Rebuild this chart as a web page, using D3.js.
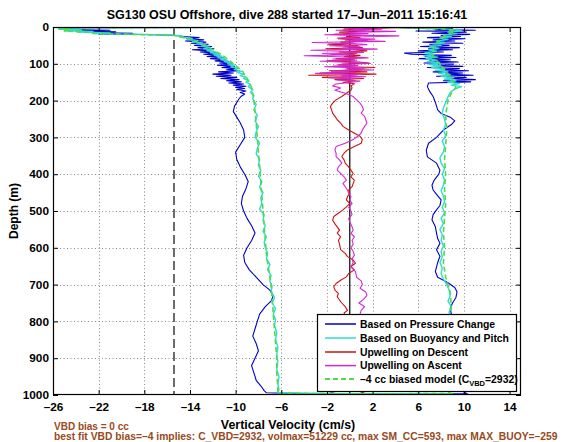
<!DOCTYPE html>
<html><head><meta charset="utf-8">
<script src="https://cdn.jsdelivr.net/npm/d3@7"></script>
<style>
body{margin:0;background:#fff}
svg{display:block}
text{font-family:"Liberation Sans",Arial,Helvetica,sans-serif;font-weight:bold}
</style>
</head><body>
<svg id="chart" width="568" height="442"></svg>
<script>
// ---------------- data ----------------
const titleText = "SG130 OSU Offshore, dive 288 started 17\u2013Jun\u20132011 15:16:41";
const xLabel = "Vertical Velocity (cm/s)";
const yLabel = "Depth (m)";
const note1 = "VBD bias = 0 cc";
const note2 = "best fit VBD bias=\u20134 implies: C_VBD=2932, volmax=51229 cc, max SM_CC=593, max MAX_BUOY=\u2013259";
const xTicks = [-26,-22,-18,-14,-10,-6,-2,2,6,10,14];
const yTicks = [0,100,200,300,400,500,600,700,800,900,1000];
const xDomain = [-26, 15];
const yDomain = [0, 1000];
const vbdLimit = -15.4;   // dashed vertical reference
const legendLabels = ["Based on Pressure Change","Based on Buoyancy and Pitch","Upwelling on Descent","Upwelling on Ascent"];
const modelLabel = ["\u20134 cc biased model (C", "VBD", "=2932)"];

// each point: [depth (m), vertical velocity (cm/s)]
const pressureW = [
[0,3],[1,-10],[2,-23],[4,-25.5],[7,-24.8],[9,-21],[11,-24],[13,-20.5],[15,-23],[17,-19],[19,-22],[21,-17],[23,-15.2],[26,-14.6],[29,-13.2],[32,-14.3],[35,-12.8],[38,-14.4],[41,-12.6],[44,-13.9],[47,-12.4],[50,-13.6],[53,-12.1],[56,-13.3],[59,-11.9],[62,-13.8],[65,-12.2],[68,-13.1],[71,-11.7],[74,-12.8],[77,-11.4],[80,-12.5],[83,-11.1],[86,-12.2],[89,-10.9],[92,-11.8],[95,-10.6],[98,-11.4],[101,-10.3],[104,-11.6],[107,-10.1],[110,-11.2],[113,-9.9],[116,-10.8],[119,-9.7],[122,-11.5],[125,-10.2],[128,-12],[131,-10.4],[134,-11.7],[137,-9.9],[140,-11.3],[143,-9.7],[146,-10.8],[149,-9.5],[152,-10.6],[155,-9.3],[158,-10.2],[161,-9.1],[164,-10],[167,-9.2],[170,-9.9],[174,-9.1],[178,-9.6],[182,-9.2],[188,-9.5],
[195,-9.7],[205,-9.9],[215,-10.1],[230,-10.2],[245,-9.9],[260,-9.6],[280,-9.3],[300,-9.2],[320,-9.6],[340,-10.0],[360,-9.9],[380,-9.6],[400,-9.2],[420,-8.9],[440,-9.1],[460,-9.4],[480,-9.5],[500,-9.3],[520,-9.0],[540,-8.6],[560,-8.3],[580,-8.6],[600,-9.0],[620,-9.3],[640,-9.2],[660,-8.8],[680,-8.2],[700,-7.6],[715,-7.0],[730,-6.7],[745,-6.9],[760,-7.4],[780,-7.9],[800,-8.1],[820,-8.3],[840,-8.5],[860,-8.2],[880,-8.0],[900,-8.3],[920,-8.6],[940,-8.4],[960,-8.2],[975,-7.8],[988,-7.5],[994,-7.3],[997,-3],[998,4],[997,10.3],
[992,10],[980,9.6],[960,9.3],[940,9.0],[920,8.8],[900,8.9],[880,9.1],[860,8.8],[840,8.6],[820,8.8],[800,9.0],[780,8.9],[765,8.8],[750,9.0],[735,9.3],[720,9.4],[708,9.2],[695,8.6],[688,8.2],[680,7.7],[665,7.5],[652,7.6],[640,7.7],[623,7.9],[605,7.6],[588,7.9],[575,7.7],[560,7.6],[543,7.5],[524,7.2],[510,7.3],[497,7.6],[485,7.9],[470,8.0],[455,7.6],[443,7.3],[430,7.2],[416,7.4],[400,7.8],[389,7.9],[370,7.6],[353,6.8],[335,6.7],[316,6.9],[300,7.6],[280,8.2],[265,8.9],[255,9.2],[245,8.8],[235,8.0],[225,7.7],[205,7.5],[189,7.3],[175,7.0],[162,6.8],[152,6.9],
[149,10.6],[146,8.2],[143,11.0],[140,8.8],[137,10.2],[134,7.6],[131,10.8],[128,8.4],[125,9.9],[122,7.3],[119,10.4],[116,8.0],[113,9.6],[110,6.8],[107,9.9],[104,7.4],[101,9.1],[98,6.5],[95,9.5],[92,7.0],[89,8.8],[86,6.1],[83,9.3],[80,6.6],[77,8.9],[74,5.4],[71,4.8],[68,8.2],[65,6.0],[62,9.0],[59,6.9],[56,9.6],[53,6.2],[50,8.7],[47,7.0],[44,9.9],[41,6.4],[38,9.2],[35,7.3],[32,10.1],[29,6.8],[26,9.7],[23,8.0],[20,10.5],[17,7.2],[14,10.2],[11,5.8],[9,11.0],[7,7.5],[5,9.0],[3,5.5],[1,4.5],[0,4]
];

const buoyancyW = [
[0,2],[1,-12],[2,-24],[4,-25.5],[6,-25.2],[8,-23.5],[10,-25],[12,-22.5],[14,-23.8],[16,-21],[18,-22.5],[20,-18],[22,-15.5],[25,-14.6],[28,-14.9],[31,-13.8],[34,-14.2],[37,-13.3],[40,-13.8],[43,-12.9],[46,-13.4],[49,-12.6],[52,-13],[55,-12.3],[58,-12.8],[61,-12.1],[64,-12.5],[67,-11.8],[70,-12.2],[73,-11.5],[76,-11.9],[79,-11.2],[82,-11.6],[85,-11],[88,-11.3],[91,-10.7],[94,-11],[97,-10.4],[100,-10.7],[104,-10.1],[108,-10.4],[112,-9.8],[116,-10.1],[120,-9.5],[124,-9.8],[128,-9.3],[132,-9.6],[136,-9.1],[140,-9.3],[145,-8.9],[150,-9.1],[156,-8.7],[162,-8.9],[170,-8.5],[178,-8.7],[186,-8.4],
[195,-8.5],[210,-8.2],[225,-8.4],[240,-8.1],[255,-8.3],[270,-8.0],[285,-8.2],[300,-8.3],[315,-7.9],[330,-8.1],[345,-8.2],[360,-7.9],[375,-8.0],[390,-7.8],[405,-8.0],[420,-7.7],[435,-7.9],[450,-7.6],[465,-7.8],[480,-7.7],[495,-7.9],[510,-7.5],[525,-7.6],[540,-7.4],[555,-7.6],[570,-7.3],[585,-7.5],[600,-7.4],[615,-7.2],[630,-7.3],[645,-7.0],[660,-7.2],[675,-6.9],[690,-7.0],[705,-6.8],[720,-6.9],[735,-6.6],[750,-6.8],[765,-6.5],[780,-6.7],[795,-6.5],[810,-6.6],[830,-6.4],[850,-6.5],[870,-6.3],[890,-6.4],[910,-6.3],[930,-6.4],[950,-6.2],[970,-6.3],[985,-6.2],[994,-6.3],[997,0],[996,8.8],
[990,8.6],[970,8.4],[950,8.5],[930,8.3],[910,8.5],[890,8.4],[870,8.6],[850,8.5],[830,8.7],[810,8.6],[790,8.8],[775,8.7],[760,8.9],[745,8.6],[730,8.8],[715,8.7],[700,8.5],[685,8.2],[670,8.0],[655,8.1],[640,7.9],[625,8.1],[610,8.0],[595,8.2],[580,8.0],[565,8.1],[550,7.9],[535,8.2],[520,8.0],[505,8.3],[490,8.1],[475,8.3],[460,8.2],[445,8.0],[430,8.2],[415,8.3],[400,8.1],[385,8.3],[370,8.0],[355,7.9],[340,8.2],[325,8.3],[310,8.1],[295,8.4],[280,8.2],[265,8.4],[250,8.3],[235,8.1],[220,8.2],[205,8.4],[190,8.6],[178,8.8],[168,9.2],
[162,9.8],[158,8.9],[154,9.6],[150,8.6],[146,9.3],[142,8.3],[138,9.1],[134,8.0],[130,8.8],[126,7.8],[122,8.6],[118,7.5],[114,8.3],[110,7.2],[106,8.0],[102,7.0],[98,7.9],[94,6.8],[90,7.6],[86,6.7],[82,7.7],[78,6.5],[74,7.4],[70,6.6],[66,7.6],[62,6.9],[58,7.8],[54,7.0],[50,8.0],[46,7.3],[42,8.3],[38,7.6],[34,8.6],[30,7.9],[26,8.9],[22,8.2],[18,9.4],[14,8.6],[10,9.8],[7,9.0],[4,8.0],[2,5],[0,3]
];

const upwellDescent = [
[0,16],[1,12],[2,4],[5,0.8],[8,-0.6],[11,1.4],[14,-0.9],[17,0.4],[20,-1.4],[23,1.0],[26,-0.3],[29,0.9],[32,-1.0],[35,0.5],[38,1.6],[41,-0.8],[44,0.3],[47,-1.9],[50,0.7],[53,-0.4],[56,1.1],[59,-2.1],[62,0.2],[65,1.5],[68,-0.9],[71,0.6],[74,-1.6],[77,0.9],[80,-0.5],[83,1.3],[86,-1.2],[89,0.4],[92,-2.0],[95,0.8],[98,1.7],[101,-0.7],[104,0.5],[107,-1.5],[110,2.2],[113,-0.2],[116,0.9],[119,-1.8],[122,1.5],[125,-2.6],[128,2.3],[131,-3.6],[134,0.6],[137,-2.4],[140,1.2],[143,-1.3],[146,0.5],[150,-0.6],[154,0.4],[160,0.1],
[165,0.2],[172,0.1],[180,-0.3],[189,-0.7],[198,-1.2],[207,-1.5],[216,-1.7],[225,-1.6],[234,-1.5],[243,-1.3],[252,-1.1],[261,-0.8],[270,-0.6],[280,-0.1],[290,0.5],[297,0.9],[306,1.1],[316,1.0],[325,0.4],[334,-0.2],[343,-0.5],[352,-0.7],[361,-0.5],[370,-0.4],[380,-0.1],[389,0.1],[398,0.3],[407,0.1],[416,0.4],[425,0.3],[434,0.2],[443,-0.1],[452,0.0],[461,-0.2],[470,-0.3],[480,0.0],[489,-0.3],[497,-0.6],[506,-1.0],[515,-1.4],[525,-1.5],[535,-1.3],[543,-1.1],[552,-0.9],[560,-1.1],[570,-0.8],[580,-1.0],[590,-0.9],[605,-0.8],[615,-0.4],[624,-0.2],[633,0.3],[642,0.5],[651,0.1],[660,0.4],[670,-0.1],[679,-0.3],[688,-0.8],[697,-1.2],[706,-1.4],[715,-1.3],[724,-1.0],[733,-1.1],[742,-0.9],[750,-0.7],[760,-0.4],[770,-0.2],[777,-0.5],[800,-0.3],[830,0.2],[860,-0.4],[890,0.3],[920,-0.2],[950,0.4],[975,0.1],[990,0.8],[995,1.3]
];

const upwellAscent = [
[0,1],[3,-0.5],[6,2.8],[9,-1.2],[12,4.0],[15,-0.3],[18,1.6],[21,-2.2],[24,4.3],[27,0.6],[30,-1.1],[33,2.2],[36,-0.4],[39,3.1],[42,-3.3],[45,0.2],[48,1.5],[51,-1.8],[54,0.9],[57,-0.6],[60,2.4],[63,-3.4],[66,-0.8],[69,1.2],[72,-2.4],[75,0.4],[78,-4.0],[81,-0.9],[84,1.6],[87,-1.5],[90,0.6],[93,-2.6],[96,0.2],[99,1.8],[102,-1.0],[105,0.7],[108,-2.2],[111,1.3],[114,-0.4],[117,2.1],[120,-1.6],[123,0.5],[126,-3.0],[129,0.9],[132,-0.7],[135,1.4],[138,-1.9],[141,0.3],[144,-1.1],[147,0.9],[150,0.2],
[155,-1.2],[160,-1.5],[166,-0.8],[172,-1.3],[180,-0.4],[189,0.3],[198,0.6],[207,0.9],[216,1.1],[225,1.2],[234,1.0],[243,1.3],[252,1.4],[261,1.5],[270,1.3],[280,1.1],[288,1.0],[297,0.7],[306,0.3],[316,-0.4],[325,-1.2],[334,-1.3],[343,-1.2],[352,-1.2],[361,-0.9],[370,-0.7],[380,-1.0],[389,-1.1],[398,-0.8],[407,-0.5],[416,-0.3],[425,-0.6],[434,-0.4],[443,-0.2],[452,-0.1],[461,0.1],[470,0.0],[480,0.2],[490,-0.1],[500,0.1],[510,0.2],[520,-0.1],[530,0.0],[543,0.2],[552,0.3],[561,0.1],[570,0.4],[580,0.2],[590,0.3],[600,0.1],[610,0.3],[620,0.4],[630,0.2],[640,0.3],[652,0.1],[665,0.5],[680,0.6],[690,1.0],[700,1.1],[710,0.9],[720,1.4],[730,1.5],[740,1.2],[750,0.8],[760,1.3],[770,1.0],[780,0.9],[810,0.5],[840,1.1],[870,0.4],[900,0.9],[930,0.2],[960,0.7],[985,-0.6],[995,-1.8]
];

const biasedModel = [
[0,0],[2,-24],[5,-25.5],[8,-24.5],[11,-25],[14,-23],[17,-22.5],[20,-19],[23,-15.4],[27,-14.7],[32,-14.2],[37,-13.6],[42,-13.3],[48,-12.8],[54,-12.4],[60,-12.1],[66,-11.8],[72,-11.4],[78,-11.1],[85,-10.8],[92,-10.5],[100,-10.2],[110,-9.8],[120,-9.4],[130,-9.2],[140,-9.0],[150,-8.8],[165,-8.6],[180,-8.5],[200,-8.4],[230,-8.3],[260,-8.2],[300,-8.1],[340,-8.0],[380,-7.9],[420,-7.8],[460,-7.7],[500,-7.6],[540,-7.5],[580,-7.4],[620,-7.3],[660,-7.1],[700,-6.9],[740,-6.8],[780,-6.7],[820,-6.6],[860,-6.5],[900,-6.4],[940,-6.4],[980,-6.3],[995,-6.3],[997,0],[996,9],
[990,8.9],[950,8.8],[900,8.7],[850,8.7],[800,8.8],[760,8.9],[720,8.8],[680,8.4],[640,8.2],[600,8.3],[560,8.2],[520,8.3],[480,8.4],[440,8.3],[400,8.4],[360,8.3],[320,8.4],[280,8.5],[240,8.4],[200,8.6],[180,8.9],[165,9.3],[150,9.1],[135,8.8],[120,8.4],[105,8.0],[90,7.6],[75,7.2],[60,7.3],[45,7.6],[30,8.0],[20,8.6],[12,9.2],[6,8.4],[2,5],[0,4]
];

// ---------------- chart ----------------
const svg = d3.select("#chart");
const L = 53, R = 521, T = 27, B = 395;
const x = d3.scaleLinear().domain(xDomain).range([L, R]);
const y = d3.scaleLinear().domain(yDomain).range([T, B]);
const fmt = d => d < 0 ? "\u2013" + (-d) : String(d);

svg.append("rect").attr("x",0).attr("y",0).attr("width",568).attr("height",442).attr("fill","#fff");

// grid
const grid = svg.append("g").attr("stroke","#8a8a8a").attr("stroke-width",1).attr("stroke-dasharray","1,2.5");
grid.selectAll("line.gx").data(xTicks.filter(v => v > xDomain[0])).join("line")
  .attr("x1", d => Math.round(x(d))+0.5).attr("x2", d => Math.round(x(d))+0.5).attr("y1",T).attr("y2",B);
grid.selectAll("line.gy").data(yTicks.filter(v => v > yDomain[0] && v < yDomain[1])).join("line")
  .attr("y1", d => Math.round(y(d))+0.5).attr("y2", d => Math.round(y(d))+0.5).attr("x1",L).attr("x2",R);

// clip
svg.append("clipPath").attr("id","clip").append("rect").attr("x",L).attr("y",T).attr("width",R-L).attr("height",B-T);
const plot = svg.append("g").attr("clip-path","url(#clip)");

// reference lines
plot.append("line").attr("x1",x(vbdLimit)).attr("x2",x(vbdLimit)).attr("y1",T).attr("y2",B)
  .attr("stroke","#3c3c3c").attr("stroke-width",1.5).attr("stroke-dasharray","9,4");
plot.append("line").attr("x1",x(0)).attr("x2",x(0)).attr("y1",T).attr("y2",B)
  .attr("stroke","#000").attr("stroke-width",1.2);

const line = d3.line().x(d => x(d[1])).y(d => y(d[0]));
const series = [
  {data: pressureW, color: "#0000c8", w: 1.1, dash: null},
  {data: buoyancyW, color: "#30dcd0", w: 1.4, dash: null},
  {data: upwellDescent, color: "#c81414", w: 1.1, dash: null},
  {data: upwellAscent, color: "#d22ad2", w: 1.1, dash: null},
  {data: biasedModel, color: "#4cdc4c", w: 1.6, dash: "5,3"}
];
series.forEach(s => {
  plot.append("path").datum(s.data).attr("d", line).attr("fill","none")
    .attr("stroke", s.color).attr("stroke-width", s.w).attr("stroke-linejoin","round")
    .attr("stroke-dasharray", s.dash);
});

// axes (MATLAB-style inward ticks)
const axB = svg.append("g").attr("transform",`translate(0,${B})`)
  .call(d3.axisBottom(x).tickValues(xTicks).tickFormat(fmt).tickSizeInner(-5).tickSizeOuter(0).tickPadding(8));
const axT = svg.append("g").attr("transform",`translate(0,${T})`)
  .call(d3.axisTop(x).tickValues(xTicks).tickFormat("").tickSizeInner(-5).tickSizeOuter(0));
const axL = svg.append("g").attr("transform",`translate(${L},0)`)
  .call(d3.axisLeft(y).tickValues(yTicks).tickFormat(fmt).tickSizeInner(-5).tickSizeOuter(0).tickPadding(4));
const axR = svg.append("g").attr("transform",`translate(${R},0)`)
  .call(d3.axisRight(y).tickValues(yTicks).tickFormat("").tickSizeInner(-5).tickSizeOuter(0));
[axB,axT,axL,axR].forEach(a => {
  a.select(".domain").remove();
  a.selectAll("line").attr("stroke","#000");
  a.selectAll("text").attr("fill","#000").style("font-size","11.8px").style("font-weight","bold")
   .style("font-family",'"Liberation Sans",Arial,sans-serif');
});
svg.append("rect").attr("x",L+0.5).attr("y",T+0.5).attr("width",R-L-1).attr("height",B-T-1)
  .attr("fill","none").attr("stroke","#000").attr("stroke-width",1.2);

// legend
const lg = svg.append("g");
lg.append("rect").attr("x",317.5).attr("y",314.5).attr("width",199).attr("height",77)
  .attr("fill","#fff").attr("stroke","#000").attr("stroke-width",1.2);
const rowsY = [324,338,352,365.6,379];
series.forEach((s,i) => {
  lg.append("line").attr("x1",325).attr("x2",356).attr("y1",rowsY[i]).attr("y2",rowsY[i])
    .attr("stroke",s.color).attr("stroke-width", i===4 ? 1.8 : 1.5).attr("stroke-dasharray", s.dash);
});
legendLabels.forEach((t,i) => {
  lg.append("text").attr("x",360).attr("y",rowsY[i]).attr("dy","0.36em").style("font-size","10.4px").text(t);
});
const mt = lg.append("text").attr("x",360).attr("y",rowsY[4]).attr("dy","0.36em").style("font-size","10.4px");
mt.append("tspan").text(modelLabel[0]);
mt.append("tspan").attr("dy","3").style("font-size","7.5px").text(modelLabel[1]);
mt.append("tspan").attr("dy","-3").text(modelLabel[2]);

// titles
svg.append("text").attr("x",287).attr("y",19).attr("text-anchor","middle").style("font-size","12.5px").text(titleText);
svg.append("text").attr("x",288).attr("y",429).attr("text-anchor","middle").style("font-size","12.4px").text(xLabel);
svg.append("text").attr("transform","translate(18,211) rotate(-90)").attr("text-anchor","middle").style("font-size","12px").text(yLabel);

const brown = "#9a4a1c";
svg.append("text").attr("x",54).attr("y",430).attr("fill",brown).style("font-size","10px").text(note1);
const n2 = svg.append("text").attr("x",54).attr("y",440).attr("fill",brown).style("font-size","10px").text(note2);
const len = n2.node().getComputedTextLength();
if (len > 0) n2.style("font-size", (10*504/len).toFixed(2)+"px");
</script>
</body></html>
